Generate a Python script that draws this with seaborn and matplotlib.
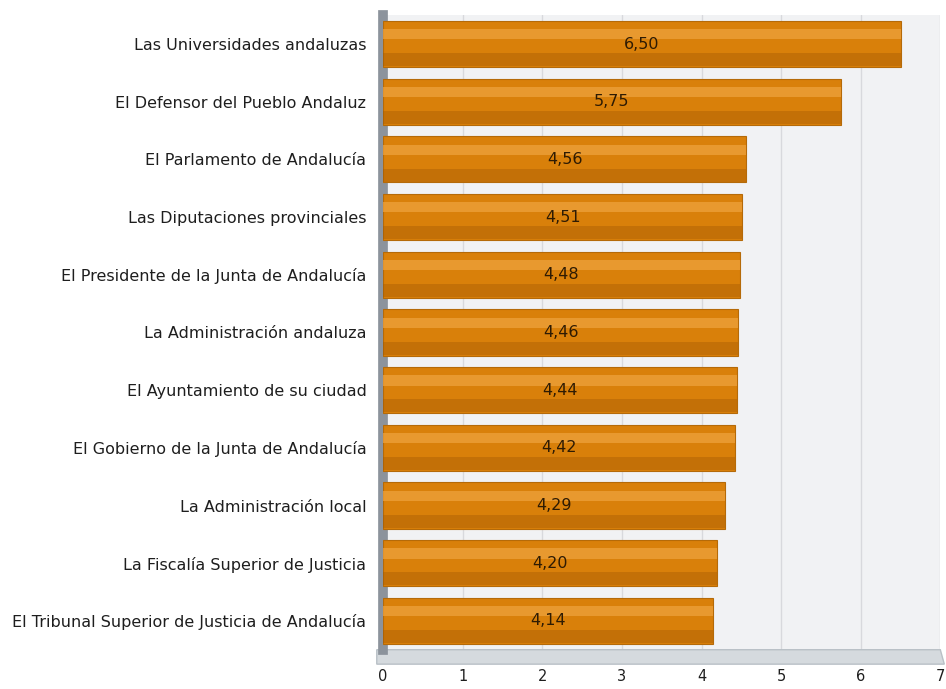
import pandas as pd
import seaborn as sns
import matplotlib.pyplot as plt
from matplotlib.patches import Polygon, Rectangle

# Valoración de instituciones (escala 0-10)
instituciones = [
    "Las Universidades andaluzas",
    "El Defensor del Pueblo Andaluz",
    "El Parlamento de Andalucía",
    "Las Diputaciones provinciales",
    "El Presidente de la Junta de Andalucía",
    "La Administración andaluza",
    "El Ayuntamiento de su ciudad",
    "El Gobierno de la Junta de Andalucía",
    "La Administración local",
    "La Fiscalía Superior de Justicia",
    "El Tribunal Superior de Justicia de Andalucía",
]
valores = [6.50, 5.75, 4.56, 4.51, 4.48, 4.46, 4.44, 4.42, 4.29, 4.20, 4.14]
xticks = [0, 1, 2, 3, 4, 5, 6, 7]

df = pd.DataFrame({"institucion": instituciones, "valor": valores})

sns.set_style("white")
plt.rcParams["font.family"] = ["DejaVu Sans"]

fig = plt.figure(figsize=(9.46, 6.89), dpi=100)
ax = fig.add_axes([0.405, 0.057, 0.589, 0.921])

ax.set_facecolor("#f1f2f4")
sns.barplot(data=df, x="valor", y="institucion", orient="h", color="#d9800a",
            width=0.8, saturation=1, edgecolor="#b56a08", linewidth=0.8,
            ax=ax, zorder=3)

# shading stripes on each bar for the cylinder look
for p in list(ax.patches):
    x, y = p.get_xy()
    w, h = p.get_width(), p.get_height()
    ax.add_patch(Rectangle((x, y + h * 0.18), w, h * 0.22, facecolor="#eea23c",
                           edgecolor="none", alpha=0.75, zorder=4))
    ax.add_patch(Rectangle((x, y + h * 0.70), w, h * 0.28, facecolor="#a35a04",
                           edgecolor="none", alpha=0.4, zorder=4))

for i, v in enumerate(valores):
    ax.text(v / 2, i, f"{v:.2f}".replace(".", ","), ha="center", va="center",
            fontsize=11.5, color="#2e1b03", zorder=5)

ax.set_xlim(0, 7)
ax.set_xticks(xticks)
ax.set_xticklabels([str(t) for t in xticks], fontsize=10.5)
ax.set_xlabel(None)
ax.set_ylabel(None)
ax.tick_params(axis="y", labelsize=11.5, length=0, pad=12, labelcolor="#1e1e1e")
ax.tick_params(axis="x", length=0, pad=14, labelcolor="#1e1e1e")
ax.grid(axis="x", color="#d8d9dd", linewidth=1, zorder=0)
for s in ["top", "right", "bottom"]:
    ax.spines[s].set_visible(False)
ax.spines["left"].set_color("#8c939c")
ax.spines["left"].set_linewidth(7)

# floor of the 3D box
floor = Polygon([[-0.08, 10.5], [7.0, 10.5], [7.05, 10.75], [-0.08, 10.75]],
                closed=True, facecolor="#d5dade", edgecolor="#b9c0c6",
                clip_on=False, zorder=1)
ax.add_patch(floor)

fig.savefig("out.png", dpi=100)
plt.close()
